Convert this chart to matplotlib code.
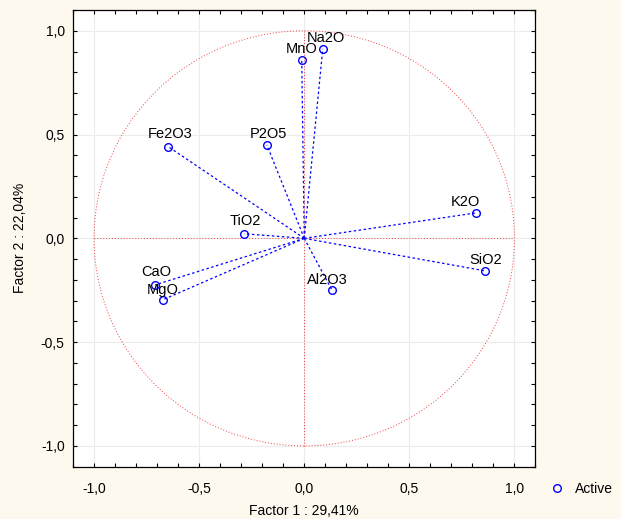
import matplotlib.pyplot as plt
import numpy as np
from matplotlib.ticker import FuncFormatter, MultipleLocator

plt.rcParams["font.family"] = ["Liberation Sans", "DejaVu Sans"]

# factor loadings (factor 1, factor 2)
variables = ["Na2O", "MnO", "Fe2O3", "P2O5", "K2O", "TiO2", "SiO2", "Al2O3", "CaO", "MgO"]
factor1 = [0.088, -0.012, -0.646, -0.178, 0.819, -0.286, 0.862, 0.131, -0.709, -0.673]
factor2 = [0.913, 0.860, 0.441, 0.450, 0.123, 0.022, -0.157, -0.248, -0.224, -0.296]
# label offsets in points
label_dx = [2, 0, 1, 1, -8, 1, 0, -3, 1, 0]
label_dy = [8, 8, 9, 8, 8, 9, 8, 7, 9, 7]

fig = plt.figure(figsize=(6.21, 5.19), dpi=100, facecolor="#fdf9ee")
ax = fig.add_axes([0.1176, 0.1008, 0.7447, 0.8799])
ax.set_facecolor("white")

ax.set_xlim(-1.1, 1.1)
ax.set_ylim(-1.1, 1.1)

ax.xaxis.set_major_locator(MultipleLocator(0.5))
ax.yaxis.set_major_locator(MultipleLocator(0.5))
ax.xaxis.set_minor_locator(MultipleLocator(0.1))
ax.yaxis.set_minor_locator(MultipleLocator(0.1))
comma = FuncFormatter(lambda v, p: f"{v:.1f}".replace(".", ",").replace("-0,0", "0,0"))
ax.xaxis.set_major_formatter(comma)
ax.yaxis.set_major_formatter(comma)
ax.tick_params(which="both", direction="in", top=True, right=True, length=3,
               width=0.8, labelsize=10)
ax.tick_params(axis="x", which="both", pad=11)
ax.tick_params(axis="y", which="both", pad=6)
ax.grid(True, which="major", color="#ececec", lw=0.8)
ax.set_axisbelow(True)

for s in ax.spines.values():
    s.set_linewidth(0.9)

# unit circle and axes through the origin
red = "#f04040"
t = np.linspace(0, 2 * np.pi, 400)
ax.plot(np.cos(t), np.sin(t), color=red, lw=0.7, ls=(0, (1, 2)))
ax.plot([-1, 1], [0, 0], color=red, lw=0.7, ls=(0, (1, 2)))
ax.plot([0, 0], [-1, 1], color=red, lw=0.7, ls=(0, (1, 2)))

for name, x, y, dx, dy in zip(variables, factor1, factor2, label_dx, label_dy):
    ax.plot([0, x], [0, y], color="blue", lw=0.9, ls=(0, (2, 2)))
    ax.annotate(name, (x, y), xytext=(dx, dy), textcoords="offset points",
                ha="center", va="center", fontsize=10.5, color="black")

pts, = ax.plot(factor1, factor2, ls="none", marker="o", ms=5.5, mfc="none",
               mec="blue", mew=1.0, label="Active")

ax.set_xlabel("Factor 1 : 29,41%", fontsize=10, labelpad=6)
ax.set_ylabel("Factor 2 : 22,04%", fontsize=10, labelpad=10)

fig.legend(handles=[pts], loc="center left", bbox_to_anchor=(0.865, 0.058),
           frameon=False, fontsize=10, handlelength=1.0, handletextpad=0.8)

fig.savefig("out.png", dpi=100, facecolor=fig.get_facecolor())
